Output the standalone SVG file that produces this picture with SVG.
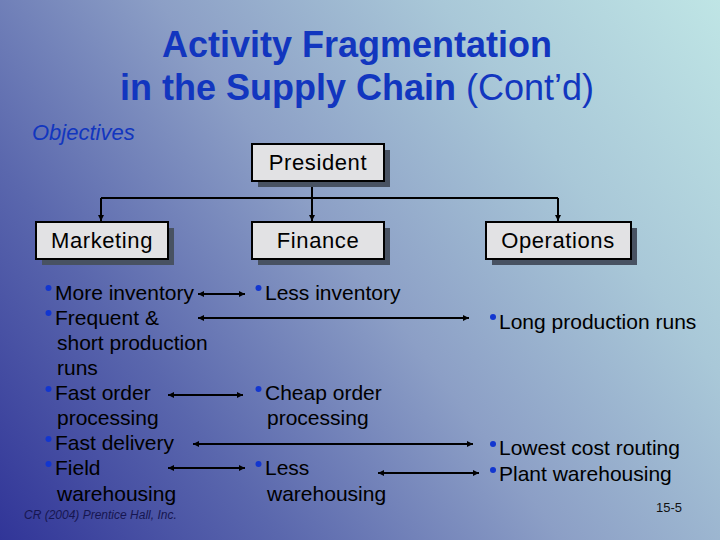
<svg xmlns="http://www.w3.org/2000/svg" width="720" height="540" viewBox="0 0 720 540">
<defs>
<linearGradient id="bg" gradientUnits="userSpaceOnUse" x1="0" y1="540" x2="720" y2="0">
<stop offset="0" stop-color="#313598"/>
<stop offset="0.25" stop-color="#5a67ad"/>
<stop offset="0.5" stop-color="#8c9fc6"/>
<stop offset="0.75" stop-color="#a9c8d8"/>
<stop offset="1" stop-color="#bfe5e5"/>
</linearGradient>
<marker id="ah" viewBox="0 0 10 10" refX="10" refY="5" markerWidth="8" markerHeight="6" markerUnits="userSpaceOnUse" orient="auto-start-reverse">
<path d="M0,0 L10,5 L0,10 Z" fill="#000"/>
</marker>
<style>
.title{font-family:"Liberation Sans",Arial,sans-serif;font-size:36px;fill:#1236bf;text-anchor:middle}
.box{fill:#e2e2e4;stroke:#000;stroke-width:2}
.shadow{fill:#485262}
.lbl{font-family:"Liberation Sans",Arial,sans-serif;font-size:22px;letter-spacing:0.6px;fill:#000;text-anchor:middle}
.item{font-family:"Liberation Sans",Arial,sans-serif;font-size:21px;fill:#000}
.dot{fill:#1236d0}
.conn{stroke:#000;stroke-width:2;fill:none}
</style>
</defs>
<rect width="720" height="540" fill="url(#bg)"/>
<g id="title">
<text class="title" x="357" y="57" font-weight="bold">Activity Fragmentation</text>
<text class="title" x="357" y="100"><tspan font-weight="bold">in the Supply Chain</tspan> (Cont’d)</text>
</g>
<text x="32" y="140" font-family="Liberation Sans,Arial,sans-serif" font-size="22" font-style="italic" fill="#1236bf">Objectives</text>

<g id="connectors">
<path class="conn" d="M312,181 V198 M101,198 H558"/>
<path class="conn" d="M101,198 V221" marker-end="url(#ah)"/>
<path class="conn" d="M312,198 V221" marker-end="url(#ah)"/>
<path class="conn" d="M558,198 V221" marker-end="url(#ah)"/>
<path class="conn" d="M198,294 H245" marker-start="url(#ah)" marker-end="url(#ah)"/>
<path class="conn" d="M198,318 H469" marker-start="url(#ah)" marker-end="url(#ah)"/>
<path class="conn" d="M168,395 H243" marker-start="url(#ah)" marker-end="url(#ah)"/>
<path class="conn" d="M193,444 H473" marker-start="url(#ah)" marker-end="url(#ah)"/>
<path class="conn" d="M168,468 H245" marker-start="url(#ah)" marker-end="url(#ah)"/>
<path class="conn" d="M378,473 H479" marker-start="url(#ah)" marker-end="url(#ah)"/>
</g>

<g id="president">
<rect class="shadow" x="258" y="150" width="132" height="37"/>
<rect class="box" x="252" y="144" width="132" height="37"/>
<text class="lbl" x="318" y="170">President</text>
</g>
<g id="marketing">
<rect class="shadow" x="42" y="228" width="132" height="37"/>
<rect class="box" x="36" y="222" width="132" height="37"/>
<text class="lbl" x="102" y="248">Marketing</text>
</g>
<g id="finance">
<rect class="shadow" x="258" y="228" width="132" height="37"/>
<rect class="box" x="252" y="222" width="132" height="37"/>
<text class="lbl" x="318" y="248">Finance</text>
</g>
<g id="operations">
<rect class="shadow" x="492" y="228" width="145" height="37"/>
<rect class="box" x="486" y="222" width="145" height="37"/>
<text class="lbl" x="558" y="248">Operations</text>
</g>

<g id="marketing-objectives">
<circle class="dot" cx="48.5" cy="288" r="3"/>
<circle class="dot" cx="48.5" cy="313" r="3"/>
<circle class="dot" cx="48.5" cy="389" r="3"/>
<circle class="dot" cx="48.5" cy="439" r="3"/>
<circle class="dot" cx="48.5" cy="464" r="3"/>
<text class="item" x="55" y="300">More inventory</text>
<text class="item" x="55" y="325">Frequent &amp;</text>
<text class="item" x="57" y="350">short production</text>
<text class="item" x="57" y="375">runs</text>
<text class="item" x="55" y="400">Fast order</text>
<text class="item" x="57" y="425">processing</text>
<text class="item" x="55" y="450">Fast delivery</text>
<text class="item" x="55" y="475">Field</text>
<text class="item" x="57" y="501">warehousing</text>
</g>
<g id="finance-objectives">
<circle class="dot" cx="258.5" cy="288" r="3"/>
<circle class="dot" cx="258.5" cy="389" r="3"/>
<circle class="dot" cx="258.5" cy="464" r="3"/>
<text class="item" x="265" y="300">Less inventory</text>
<text class="item" x="265" y="400">Cheap order</text>
<text class="item" x="267" y="425">processing</text>
<text class="item" x="265" y="475">Less</text>
<text class="item" x="267" y="501">warehousing</text>
</g>
<g id="operations-objectives">
<circle class="dot" cx="493" cy="317" r="3"/>
<circle class="dot" cx="493" cy="444" r="3"/>
<circle class="dot" cx="493" cy="470" r="3"/>
<text class="item" x="499" y="329">Long production runs</text>
<text class="item" x="499" y="455">Lowest cost routing</text>
<text class="item" x="499" y="481">Plant warehousing</text>
</g>
<text x="24" y="519" font-family="Liberation Sans,Arial,sans-serif" font-size="12" font-style="italic" fill="#161650">CR (2004) Prentice Hall, Inc.</text>
<text x="656" y="512" font-family="Liberation Sans,Arial,sans-serif" font-size="13" fill="#111">15-5</text>
</svg>
